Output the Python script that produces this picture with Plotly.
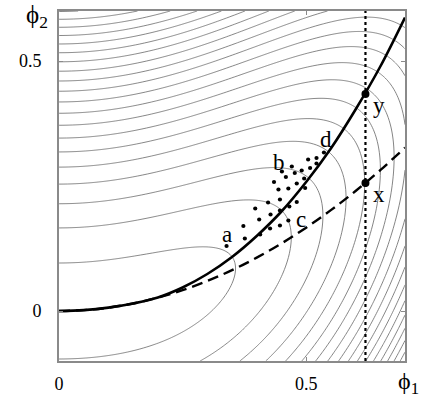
import numpy as np
import plotly.graph_objects as go

# ---------------- data ----------------
# solid curve (phi1, phi2)
SOLID_X = [0.0, 0.05, 0.10, 0.15, 0.20, 0.25, 0.30, 0.35, 0.40, 0.45, 0.50, 0.55, 0.60, 0.65, 0.70]
SOLID_Y = [0.0, 0.0017, 0.0067, 0.015, 0.027, 0.047, 0.074, 0.108, 0.150, 0.199, 0.258, 0.325, 0.403, 0.489, 0.587]
# dashed curve (valley floor)
DASHED_X = [0.0, 0.05, 0.10, 0.15, 0.20, 0.25, 0.30, 0.35, 0.40, 0.45, 0.50, 0.55, 0.60, 0.65, 0.70]
DASHED_Y = [0.0, 0.0017, 0.0067, 0.015, 0.0267, 0.0417, 0.060, 0.0817, 0.1067, 0.135, 0.1667, 0.2017, 0.240, 0.2817, 0.3267]
# vertical dotted line position
CUT_X = 0.62
# marked points x and y
MARK_X = [0.62, 0.62]
MARK_Y = [0.256, 0.434]
# letter labels
LETTER_TEXT = ["a", "b", "c", "d", "x", "y"]
LETTER_X = [0.340, 0.445, 0.490, 0.540, 0.648, 0.648]
LETTER_Y = [0.154, 0.298, 0.183, 0.344, 0.233, 0.412]
# cloud of small dots
DOTS_X = [0.339, 0.373, 0.376, 0.397, 0.405, 0.407, 0.423, 0.428, 0.427, 0.435, 0.444, 0.447,
          0.447, 0.447, 0.451, 0.459, 0.464, 0.466, 0.464, 0.471, 0.477, 0.481, 0.481, 0.491,
          0.496, 0.498, 0.504, 0.508, 0.521, 0.521, 0.536]
DOTS_Y = [0.130, 0.170, 0.145, 0.205, 0.183, 0.153, 0.217, 0.193, 0.165, 0.258, 0.243, 0.223,
          0.201, 0.171, 0.279, 0.268, 0.245, 0.209, 0.181, 0.289, 0.276, 0.255, 0.218, 0.281,
          0.265, 0.246, 0.303, 0.286, 0.306, 0.295, 0.317]
# contour crossings of the left edge (phi1 = 0), phi2 values
LEFT_EDGE_CROSS = [0.096, 0.166, 0.213, 0.253, 0.285, 0.317, 0.345, 0.372, 0.395, 0.417,
                   0.439, 0.459, 0.477, 0.497, 0.513, 0.530, 0.547, 0.563, 0.581, 0.599]
# contour crossings of the bottom edge (phi2 = -0.1), phi1 values, levels 1..17
BOTTOM_EDGE_CROSS = [0.284, 0.365, 0.417, 0.457, 0.494, 0.521, 0.548, 0.568, 0.589, 0.606,
                     0.621, 0.636, 0.649, 0.664, 0.676, 0.688, 0.700]
X_TICKS = [0, 0.5]
X_TICK_TEXT = ["0", "0.5"]
Y_TICKS = [0, 0.5]
Y_TICK_TEXT = ["0", "0.5"]

# ---------------- contour field built from the readings ----------------
dx = np.array(DASHED_X[1:]); dy = np.array(DASHED_Y[1:])
valley_k = float(np.mean(dy / dx**2))
lvl = np.array(LEFT_EDGE_CROSS) ** 2
lvl_start = lvl[0]
lvl_size = (lvl[-1] - lvl[0]) / (len(lvl) - 1)
bx = np.array(BOTTOM_EDGE_CROSS)
bl = lvl_start + lvl_size * np.arange(1, len(bx) + 1)
w = bl - (0.1 + valley_k * bx**2) ** 2
quart_k = float(np.mean(w / bx**4))

gx = np.linspace(0, 0.7, 351)
gy = np.linspace(-0.1, 0.6, 351)
GX, GY = np.meshgrid(gx, gy)
Z = (GY - valley_k * GX**2) ** 2 + quart_k * GX**4

fig = go.Figure()
fig.add_trace(go.Contour(
    x=gx, y=gy, z=Z, showscale=False, hoverinfo="skip",
    contours=dict(coloring="none", start=lvl_start, end=lvl_start + lvl_size * 40, size=lvl_size),
    line=dict(color="#666666", width=0.8),
))
fig.add_trace(go.Scatter(x=[CUT_X, CUT_X], y=[-0.1, 0.6], mode="lines",
                         line=dict(color="black", width=2.2, dash="dot")))
fig.add_trace(go.Scatter(x=DASHED_X, y=DASHED_Y, mode="lines", line_shape="spline",
                         line=dict(color="black", width=2.4, dash="11px,6px")))
fig.add_trace(go.Scatter(x=SOLID_X, y=SOLID_Y, mode="lines", line_shape="spline",
                         line=dict(color="black", width=2.6)))
fig.add_trace(go.Scatter(x=DOTS_X, y=DOTS_Y, mode="markers",
                         marker=dict(color="black", size=4.2)))
fig.add_trace(go.Scatter(x=MARK_X, y=MARK_Y, mode="markers",
                         marker=dict(color="black", size=8)))

serif = "Liberation Serif"
for t, lx, ly in zip(LETTER_TEXT, LETTER_X, LETTER_Y):
    fig.add_annotation(x=lx, y=ly, xref="x", yref="y", text=t, showarrow=False,
                       xanchor="center", yanchor="middle",
                       font=dict(family=serif, size=23, color="black"))

fig.add_annotation(x=-0.064, y=0.984, xref="paper", yref="paper", text="ϕ<sub>2</sub>",
                   showarrow=False, xanchor="center", yanchor="middle",
                   font=dict(family=serif, size=25, color="black"))
fig.add_annotation(x=1.010, y=-0.063, xref="paper", yref="paper", text="ϕ<sub>1</sub>",
                   showarrow=False, xanchor="center", yanchor="middle",
                   font=dict(family=serif, size=24, color="black"))

axis_common = dict(showgrid=False, zeroline=False, showline=True, mirror="ticks",
                   linecolor="#8a8a8a", linewidth=2, ticks="inside", ticklen=4,
                   tickcolor="#8a8a8a", tickwidth=1, automargin=False,
                   tickfont=dict(family=serif, size=18, color="black"))
fig.update_xaxes(range=[0, 0.7], tickvals=X_TICKS, ticktext=X_TICK_TEXT,
                 ticklabelstandoff=5, **axis_common)
fig.update_yaxes(range=[-0.1, 0.6], tickvals=Y_TICKS, ticktext=Y_TICK_TEXT,
                 ticklabelstandoff=12, **axis_common)
fig.update_layout(width=436, height=397, margin=dict(l=59, r=31, t=11, b=36),
                  paper_bgcolor="white", plot_bgcolor="white", showlegend=False)
fig.write_html("out.html", config={"displayModeBar": False},
               post_script="document.body.style.margin='0px';document.body.style.overflow='hidden';")
